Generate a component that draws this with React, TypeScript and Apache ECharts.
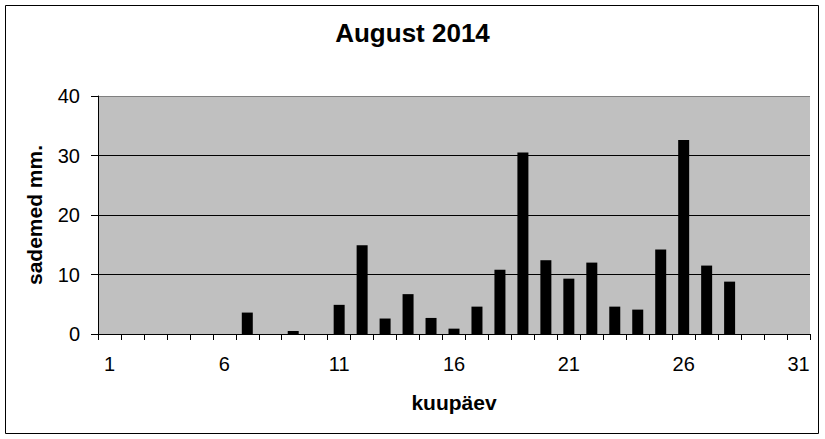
import React, { useEffect, useRef } from "react";
import * as echarts from "echarts";

const titleText = "August 2014";
const xName = "kuupäev";
const yName = "sademed mm.";
const days = Array.from({ length: 31 }, (_, i) => String(i + 1));
const rain: (number | null)[] = [
  0, 0, 0, 0, 0, 0, 3.6, 0, 0.5, 0,
  4.9, 14.9, 2.6, 6.7, 2.7, 0.9, 4.6, 10.8, 30.5, 12.4,
  9.3, 12.0, 4.6, 4.1, 14.2, 32.6, 11.5, 8.8, 0, 0, 0,
];
const yMin = 0;
const yMax = 40;
const yStep = 10;

const FONT = "'Liberation Sans', Arial, sans-serif";

export default function App() {
  const ref = useRef<HTMLDivElement>(null);
  useEffect(() => {
    if (!ref.current) return;
    const chart = echarts.init(ref.current, null, { renderer: "svg" });
    chart.setOption({
      animation: false,
      backgroundColor: "#ffffff",
      textStyle: { fontFamily: FONT, color: "#000" },
      title: {
        text: titleText,
        left: "center",
        top: 20,
        padding: 0,
        textStyle: { fontFamily: FONT, fontSize: 26, fontWeight: "bold", color: "#000" },
      },
      graphic: [
        {
          type: "rect",
          shape: { x: 5.5, y: 5.5, width: 813, height: 428 },
          style: { fill: "none", stroke: "#000", lineWidth: 1 },
          silent: true,
        },
      ],
      grid: {
        left: 98,
        top: 96,
        right: 15,
        bottom: 105,
        show: true,
        backgroundColor: "#c0c0c0",
        borderWidth: 0,
        containLabel: false,
      },
      xAxis: {
        type: "category",
        data: days,
        boundaryGap: true,
        name: xName,
        nameLocation: "middle",
        nameGap: 58,
        nameTextStyle: { fontFamily: FONT, fontSize: 21, fontWeight: "bold", color: "#000" },
        axisLine: { show: true, lineStyle: { color: "#000", width: 1 } },
        axisTick: { show: true, interval: 0, length: 6, inside: false, lineStyle: { color: "#000" } },
        axisLabel: { interval: 4, margin: 20, fontFamily: FONT, fontSize: 20, color: "#000" },
        splitLine: { show: false },
      },
      yAxis: {
        type: "value",
        min: yMin,
        max: yMax,
        interval: yStep,
        name: yName,
        nameLocation: "middle",
        nameRotate: 90,
        nameGap: 53,
        nameTextStyle: { fontFamily: FONT, fontSize: 21, fontWeight: "bold", color: "#000" },
        axisLine: { show: true, lineStyle: { color: "#000", width: 1 } },
        axisTick: { show: true, length: 7, inside: false, lineStyle: { color: "#000" } },
        axisLabel: { margin: 18, fontFamily: FONT, fontSize: 20, color: "#000" },
        splitLine: {
          show: true,
          lineStyle: { color: ["#000", "#000", "#000", "#000", "#808080"], width: 1 },
        },
      },
      series: [
        {
          type: "bar",
          data: rain,
          barWidth: 11,
          itemStyle: { color: "#000" },
        },
      ],
    });
    return () => chart.dispose();
  }, []);
  return (
    <div
      ref={ref}
      style={{ position: "fixed", left: 0, top: 0, width: 825, height: 439 }}
    />
  );
}
